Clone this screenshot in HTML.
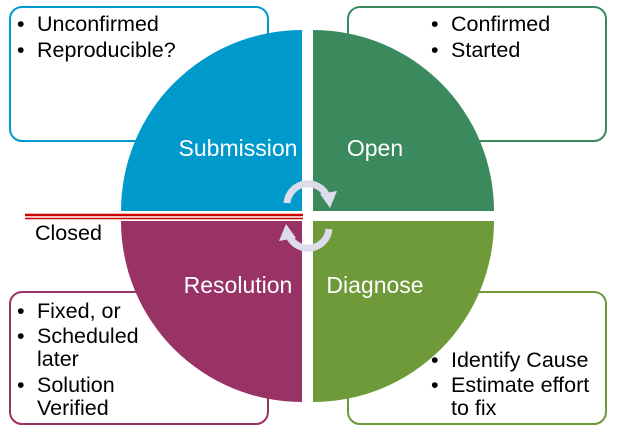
<!DOCTYPE html>
<html><head><meta charset="utf-8"><style>
body{margin:0;background:#fff;}
svg{display:block;font-family:"Liberation Sans",Arial,sans-serif;}
</style></head><body>
<svg width="620" height="432" viewBox="0 0 620 432">
<rect x="10" y="7" width="258" height="134" rx="12" fill="#fff" stroke="#0099cc" stroke-width="2"/>
<rect x="348" y="7" width="258" height="134" rx="12" fill="#fff" stroke="#3a8a5e" stroke-width="2"/>
<rect x="10" y="292" width="258" height="132" rx="12" fill="#fff" stroke="#993366" stroke-width="2"/>
<rect x="348" y="292" width="258" height="132" rx="12" fill="#fff" stroke="#6e9a3a" stroke-width="2"/>
<g font-size="21.5" fill="#000">
<text x="17" y="31">•</text><text x="37" y="31">Unconfirmed</text>
<text x="17" y="57">•</text><text x="37" y="57">Reproducible?</text>
<text x="431" y="31">•</text><text x="451" y="31">Confirmed</text>
<text x="431" y="57">•</text><text x="451" y="57">Started</text>
<text x="17" y="318">•</text><text x="37" y="318">Fixed, or</text>
<text x="17" y="343">•</text><text x="37" y="343">Scheduled</text>
<text x="37" y="366">later</text>
<text x="17" y="392">•</text><text x="37" y="392">Solution</text>
<text x="37" y="415">Verified</text>
<text x="431" y="367">•</text><text x="451" y="367">Identify Cause</text>
<text x="431" y="392">•</text><text x="451" y="392">Estimate effort</text>
<text x="451" y="415">to fix</text>
</g>
<path d="M302 211 L121 211 A181 181 0 0 1 302 30 Z" fill="#0099cc"/>
<path d="M313 211 L313 30 A181 181 0 0 1 494 211 Z" fill="#3a8a5e"/>
<path d="M302 221 L302 402 A181 181 0 0 1 121 221 Z" fill="#993366"/>
<path d="M313 221 L494 221 A181 181 0 0 1 313 402 Z" fill="#6e9a3a"/>
<line x1="25" y1="215" x2="303" y2="215" stroke="#cc0000" stroke-width="2.5"/>
<line x1="25" y1="218.5" x2="303" y2="218.5" stroke="#cc0000" stroke-width="1.5"/>
<text x="35" y="240" font-size="21.5" fill="#000">Closed</text>
<g font-size="23" fill="#fff" text-anchor="middle">
<text x="238" y="156">Submission</text>
<text x="375" y="156">Open</text>
<text x="238" y="293">Resolution</text>
<text x="375" y="293">Diagnose</text>
</g>
<g fill="none" stroke="#dcdcea" stroke-width="7">
<path d="M287 203 A21 21 0 0 1 327 196"/>
<path d="M329 229 A21 21 0 0 1 289 236"/>
</g>
<polygon points="320,194 337,191 330,208" fill="#dcdcea"/>
<polygon points="296,238 279,241 286,224" fill="#dcdcea"/>
</svg>
</body></html>
